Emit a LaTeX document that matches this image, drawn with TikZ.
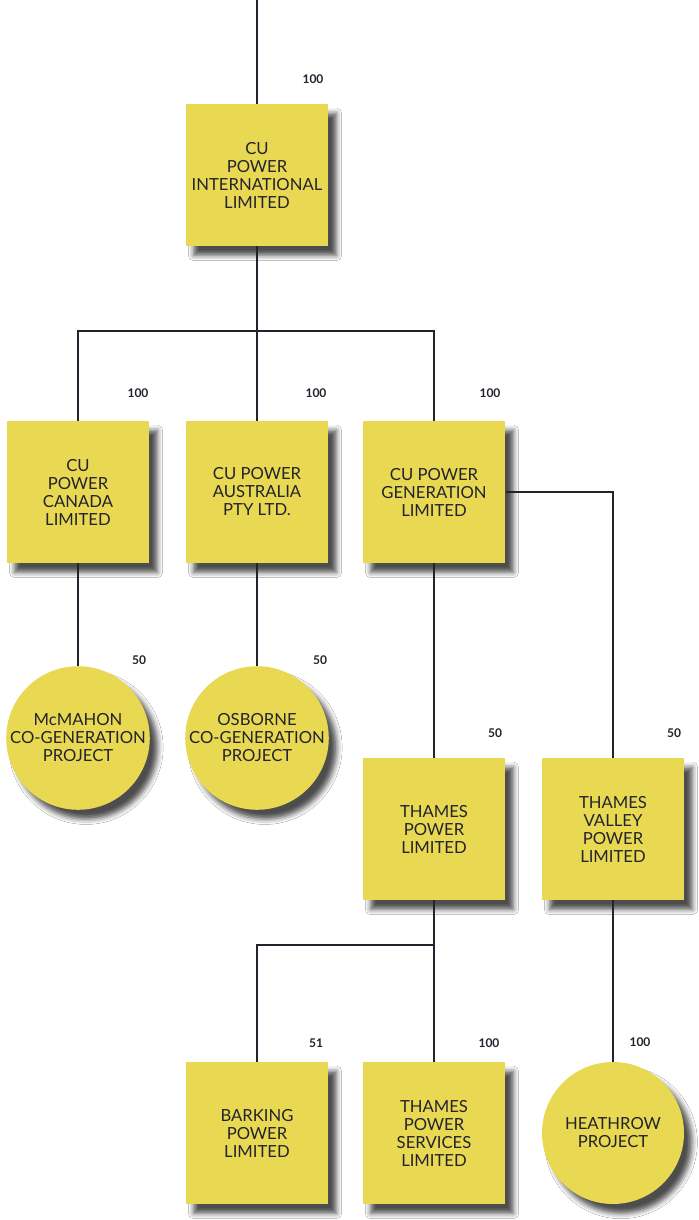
\documentclass[tikz,border=0pt]{standalone}
\usepackage{fontspec}
\setmainfont{Lato}
\usetikzlibrary{shadows.blur}
\definecolor{cuyellow}{RGB}{233,217,82}
\definecolor{cuink}{RGB}{35,35,45}

\begin{document}
\begin{tikzpicture}[x=0.75pt,y=-0.75pt,
  unit/.style={rectangle,fill=cuyellow,minimum width=107pt,minimum height=106.5pt,
    inner sep=0pt,align=center,text=cuink,font=\fontsize{12.5}{13.5}\selectfont,
    blur shadow={shadow xshift=6pt,shadow yshift=-7pt,shadow blur radius=4pt,shadow opacity=70}},
  project/.style={unit,circle,minimum size=106.5pt},
  stake/.style={font=\fontsize{9}{10}\selectfont\bfseries,text=cuink},
  link/.style={draw=cuink,line width=0.9pt}]
\useasboundingbox (0,0) rectangle (699,1220);
\fill[white] (0,0) rectangle (699,1220);

\node[unit] (intl) at (257,175) {CU\\POWER\\INTERNATIONAL\\LIMITED};

\node[unit] (canada) at (78,492) {CU\\POWER\\CANADA\\LIMITED};
\node[unit] (australia) at (257,492) {CU POWER\\AUSTRALIA\\PTY LTD.};
\node[unit] (generation) at (434,492) {CU POWER\\GENERATION\\LIMITED};

\node[project] (mcmahon) at (78,738) {McMAHON\\CO-GENERATION\\PROJECT};
\node[project] (osborne) at (257,738) {OSBORNE\\CO-GENERATION\\PROJECT};

\node[unit] (thames) at (434,829) {THAMES\\POWER\\LIMITED};
\node[unit] (valley) at (613,829) {THAMES\\VALLEY\\POWER\\LIMITED};

\node[unit] (barking) at (257,1133) {BARKING\\POWER\\LIMITED};
\node[unit] (services) at (434,1133) {THAMES\\POWER\\SERVICES\\LIMITED};
\node[project] (heathrow) at (613,1133) {HEATHROW\\PROJECT};

\node[stake] (s-intl) at (313,79) {100};
\node[stake] (s-canada) at (138,393) {100};
\node[stake] (s-australia) at (316,393) {100};
\node[stake] (s-generation) at (490,393) {100};
\node[stake] (s-mcmahon) at (139,660) {50};
\node[stake] (s-osborne) at (320,660) {50};
\node[stake] (s-thames) at (495,733) {50};
\node[stake] (s-valley) at (674,733) {50};
\node[stake] (s-barking) at (316,1043) {51};
\node[stake] (s-services) at (489,1043) {100};
\node[stake] (s-heathrow) at (640,1042) {100};

\coordinate (top) at (257,0);
\coordinate (bar) at (257,331);
\coordinate (split) at (434,945);

\draw[link] (top) -- (intl);
\draw[link] (intl) -- (bar);
\draw[link] (bar) -| (canada);
\draw[link] (bar) -| (generation);
\draw[link] (bar) -- (australia);
\draw[link] (canada) -- (mcmahon);
\draw[link] (australia) -- (osborne);
\draw[link] (generation) -- (thames);
\draw[link] (generation) -| (valley);
\draw[link] (thames) -- (split);
\draw[link] (split) -| (barking);
\draw[link] (split) -- (services);
\draw[link] (valley) -- (heathrow);
\end{tikzpicture}
\end{document}
